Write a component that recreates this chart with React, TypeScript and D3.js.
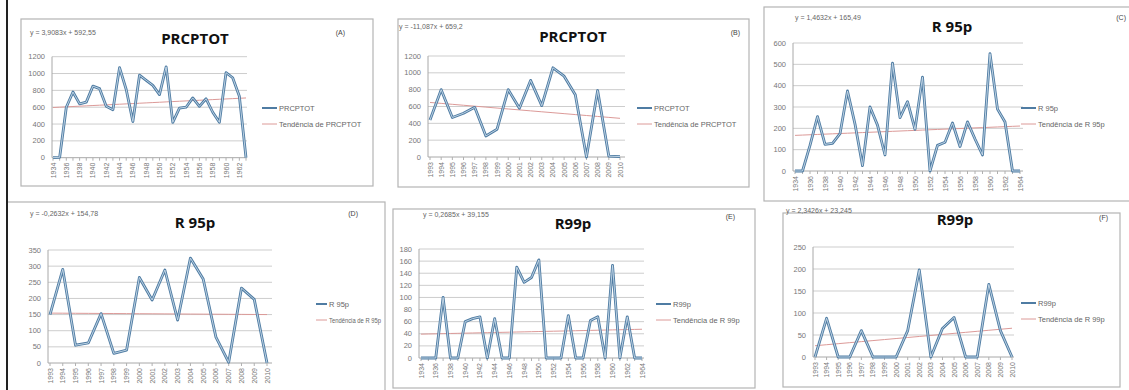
import React from "react";
import * as d3 from "d3";

// ---- data ----
const yearsLong = [
  1934, 1935, 1936, 1937, 1938, 1939, 1940, 1941, 1942, 1943, 1944, 1945, 1946, 1947, 1948, 1949,
  1950, 1951, 1952, 1953, 1954, 1955, 1956, 1957, 1958, 1959, 1960, 1961, 1962, 1963, 1964,
];
const yearsShort = [
  1993, 1994, 1995, 1996, 1997, 1998, 1999, 2000, 2001, 2002, 2003, 2004, 2005, 2006, 2007, 2008,
  2009, 2010,
];

const prcptotA = [
  0, 5, 600, 780, 640, 660, 850, 820, 610, 570, 1070, 810, 430, 980, 920, 860, 750, 1080, 420, 590,
  600, 710, 610, 700, 540, 420, 1010, 950, 730, 0,
];
const prcptotB = [440, 800, 470, 520, 590, 250, 330, 800, 580, 910, 610, 1060, 960, 740, 0, 790, 10, 5];
const r95pC = [
  0, 0, 120, 255, 125, 130, 175, 375, 220, 25, 300, 215, 75, 505, 250, 325, 195, 440, 0, 120, 135,
  225, 115, 230, 150, 75, 550, 290, 230, 0, 0,
];
const r95pD = [150, 290, 55, 62, 153, 30, 40, 265, 195, 288, 133, 325, 260, 80, 2, 232, 197, 0];
const r99pE = [
  0, 0, 0, 100, 0, 0, 60, 65, 68, 0, 65, 0, 0, 150, 125, 133, 162, 0, 0, 0, 70, 0, 0, 62, 68, 0,
  153, 0, 68, 0, 0,
];
const r99pF = [0, 88, 0, 0, 60, 0, 0, 0, 60, 198, 0, 65, 90, 0, 0, 165, 60, 0];

const panels = [
  {
    key: "A", years: yearsLong.slice(0, 30), values: prcptotA, slope: 3.9083, intercept: 592.55,
    eq: "y = 3,9083x + 592,55", title: "PRCPTOT", tag: "(A)", yMax: 1200, yStep: 200, every: 2,
    series: "PRCPTOT", trendName: "Tendência de PRCPTOT", legW: 0,
    box: [21, 19, 373, 186], plot: [53, 246, 56.7, 157.7], grid: [52, 247],
    eqPos: [30, 35], titlePos: [195, 44], tagPos: [345, 35], legend: [262, 108],
  },
  {
    key: "B", years: yearsShort, values: prcptotB, slope: -11.087, intercept: 659.2,
    eq: "y = -11,087x + 659,2", title: "PRCPTOT", tag: "(B)", yMax: 1200, yStep: 200, every: 1,
    series: "PRCPTOT", trendName: "Tendência de PRCPTOT", legW: 0,
    box: [398, 19, 749, 187], plot: [430, 620, 56, 157], grid: [428, 625],
    eqPos: [399, 29], titlePos: [573, 42], tagPos: [740, 35], legend: [637, 108],
  },
  {
    key: "C", years: yearsLong, values: r95pC, slope: 1.4632, intercept: 165.49,
    eq: "y = 1,4632x + 165,49", title: "R 95p", tag: "(C)", yMax: 600, yStep: 100, every: 2,
    series: "R 95p", trendName: "Tendência de R 95p", legW: 0,
    box: [764, 7, 1135, 201], plot: [795, 1020, 43, 171], grid: [793, 1023],
    eqPos: [795, 20], titlePos: [952, 32], tagPos: [1126, 20], legend: [1021, 108],
  },
  {
    key: "D", years: yearsShort, values: r95pD, slope: -0.2632, intercept: 154.78,
    eq: "y = -0,2632x + 154,78", title: "R 95p", tag: "(D)", yMax: 350, yStep: 50, every: 1,
    series: "R 95p", trendName: "Tendência de R 95p", legW: 52,
    box: [7, 202, 385, 398], plot: [50, 267, 250, 363], grid: [48, 272],
    eqPos: [30, 216], titlePos: [195, 228], tagPos: [358, 216], legend: [316, 304],
  },
  {
    key: "E", years: yearsLong, values: r99pE, slope: 0.2685, intercept: 39.155,
    eq: "y = 0,2685x + 39,155", title: "R99p", tag: "(E)", yMax: 180, yStep: 20, every: 2,
    series: "R99p", trendName: "Tendência de R 99p", legW: 0,
    box: [393, 209, 755, 388], plot: [421, 642, 249, 358], grid: [419, 644],
    eqPos: [423, 217], titlePos: [573, 229], tagPos: [735, 219], legend: [656, 304],
  },
  {
    key: "F", years: yearsShort, values: r99pF, slope: 2.3426, intercept: 23.245,
    eq: "y = 2,3426x + 23,245", title: "R99p", tag: "(F)", yMax: 250, yStep: 50, every: 1,
    series: "R99p", trendName: "Tendência de R 99p", legW: 0,
    box: [783, 213, 1120, 387], plot: [815, 1012, 247, 357], grid: [813, 1014],
    eqPos: [786, 213], titlePos: [955, 225], tagPos: [1108, 220], legend: [1021, 303],
  },
];

const font = "'Liberation Sans', Arial, sans-serif";

function Panel({ p }) {
  const [x0, x1, yTop, yBot] = p.plot;
  const x = d3.scalePoint().domain(p.years).range([x0, x1]).padding(0);
  const y = d3.scaleLinear().domain([0, p.yMax]).range([yBot, yTop]);
  const ticks = d3.range(0, p.yMax + 1, p.yStep);
  const line = d3
    .line()
    .x((d, i) => x(p.years[i]))
    .y((d) => y(d));
  // trend line from the fitted equation printed on the chart
  const trend = p.years.map((yr, i) => p.slope * (i + 1) + p.intercept);
  const [bx0, by0, bx1, by1] = p.box;
  const [lx, ly] = p.legend;
  const legLen = p.legW ? 11 : 15;

  return (
    <g>
      <rect x={bx0} y={by0} width={bx1 - bx0} height={by1 - by0} fill="#fff" stroke="#b4b4b4" strokeWidth={1.2} />
      {ticks.map((t) => (
        <g key={t}>
          <line x1={p.grid[0]} x2={p.grid[1]} y1={y(t)} y2={y(t)} stroke={t === 0 ? "#a8a8a8" : "#cdcdcd"} strokeWidth={1} />
          <text x={p.grid[0] - 7} y={y(t) + 2.5} fontSize={7.5} fill="#777" textAnchor="end" fontFamily={font}>
            {t}
          </text>
        </g>
      ))}
      <line x1={p.grid[0]} x2={p.grid[0]} y1={yTop} y2={yBot} stroke="#a8a8a8" />
      {p.years.map((yr) => (
        <line key={yr} x1={x(yr)} x2={x(yr)} y1={yBot} y2={yBot + 3} stroke="#b0b0b0" />
      ))}
      {p.years
        .filter((yr, i) => i % p.every === 0)
        .map((yr) => (
          <text
            key={yr}
            transform={`translate(${x(yr) + 2.5},${yBot + 5}) rotate(-90)`}
            fontSize={7}
            fill="#777"
            textAnchor="end"
            fontFamily={font}
          >
            {yr}
          </text>
        ))}
      <path d={line(trend)} fill="none" stroke="#dc9a98" strokeWidth={1} />
      <path d={line(p.values)} fill="none" stroke="#4f7ca3" strokeWidth={2.8} strokeLinejoin="round" />
      <path d={line(p.values)} fill="none" stroke="#c9dbea" strokeWidth={0.9} strokeLinejoin="round" />
      <text x={p.eqPos[0]} y={p.eqPos[1]} fontSize={7} fill="#666" fontFamily={font}>
        {p.eq}
      </text>
      <text x={p.titlePos[0]} y={p.titlePos[1]} fontSize={15} fontWeight="bold" fill="#111" textAnchor="middle" fontFamily="'Open Sans', sans-serif">
        {p.title}
      </text>
      <text x={p.tagPos[0]} y={p.tagPos[1]} fontSize={7} fill="#444" textAnchor="end" fontFamily={font}>
        {p.tag}
      </text>
      <line x1={lx} x2={lx + legLen} y1={ly} y2={ly} stroke="#4f7ca3" strokeWidth={2} />
      <text x={lx + legLen + 2} y={ly + 2.5} fontSize={7.5} fill="#666" fontFamily={font}>
        {p.series}
      </text>
      <line x1={lx} x2={lx + legLen} y1={ly + 16} y2={ly + 16} stroke="#dc9a98" strokeWidth={1} />
      <text
        x={lx + legLen + 2}
        y={ly + 18.5}
        fontSize={7.5}
        fill="#666"
        fontFamily={font}
        {...(p.legW ? { textLength: p.legW, lengthAdjust: "spacingAndGlyphs" } : {})}
      >
        {p.trendName}
      </text>
    </g>
  );
}

export default function App() {
  return (
    <svg width={1129} height={390} style={{ position: "absolute", left: 0, top: 0, background: "#fff" }}>
      <rect width={1129} height={390} fill="#fff" />
      {panels.map((p) => (
        <Panel key={p.key} p={p} />
      ))}
      <line x1={7} x2={7} y1={0} y2={390} stroke="#222" strokeWidth={2} />
    </svg>
  );
}
